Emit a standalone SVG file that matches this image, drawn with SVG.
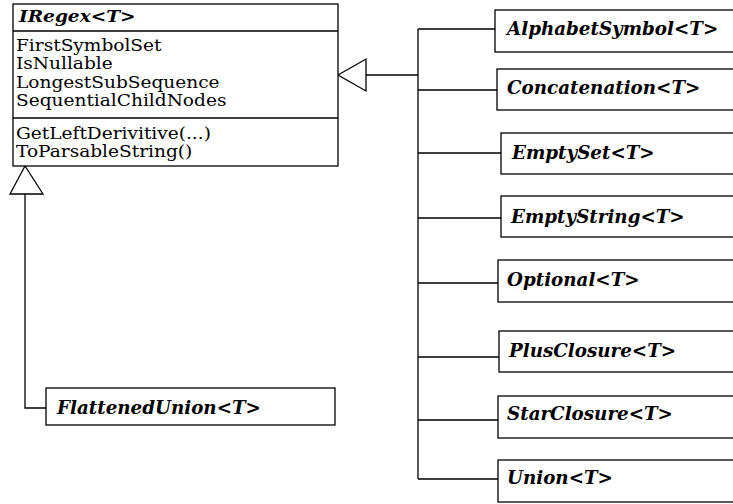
<svg xmlns="http://www.w3.org/2000/svg" width="733" height="504" viewBox="0 0 733 504">
<style>
.box{fill:#fff;stroke:#000;stroke-width:1.3}
.ln{fill:none;stroke:#000;stroke-width:1.3}
.tri{fill:#fff;stroke:#000;stroke-width:1.3}
.t{font-family:"DejaVu Serif",serif;font-size:16px;fill:#000}
.h{font-family:"DejaVu Serif",serif;font-size:18.3px;font-weight:bold;font-style:italic;fill:#000}
.hs{font-family:"DejaVu Serif",serif;font-size:16px;font-weight:bold;font-style:italic;fill:#000}
</style>
<rect width="733" height="504" fill="#fff"/>
<g id="connectors">
<path class="ln" d="M25,194 V408 H46"/>
<path class="ln" d="M366,75 H418"/>
<path class="ln" d="M418,29 V479"/>
<path class="ln" d="M418,29 H495 M418,90 H497 M418,153 H501 M418,218 H501 M418,283 H498 M418,357 H499 M418,420 H498 M418,479 H498"/>
<polygon class="tri" points="25,166 10,194 43,194"/>
<polygon class="tri" points="338,75 366,59 366,91"/>
</g>
<g id="IRegex">
<rect class="box" x="13" y="4" width="325" height="162"/>
<path class="ln" d="M13,31 H338 M13,118 H338"/>
<text class="hs" transform="matrix(1.16,0,0,1,19,21.5)">IRegex&lt;T&gt;</text>
<text class="t" transform="matrix(1.16,0,0,1,16,51)">FirstSymbolSet</text>
<text class="t" transform="matrix(1.16,0,0,1,16,69)">IsNullable</text>
<text class="t" transform="matrix(1.16,0,0,1,16,87.5)">LongestSubSequence</text>
<text class="t" transform="matrix(1.16,0,0,1,16,106)">SequentialChildNodes</text>
<text class="t" transform="matrix(1.16,0,0,1,16,138.5)">GetLeftDerivitive(...)</text>
<text class="t" transform="matrix(1.16,0,0,1,16,157)">ToParsableString()</text>
</g>
<g id="FlattenedUnion">
<rect class="box" x="46" y="388" width="289" height="37"/>
<text class="h" x="57" y="413.5">FlattenedUnion&lt;T&gt;</text>
</g>
<g id="AlphabetSymbol">
<rect class="box" x="495" y="10" width="250" height="42"/>
<text class="h" x="507" y="35">AlphabetSymbol&lt;T&gt;</text>
</g>
<g id="Concatenation">
<rect class="box" x="497" y="69" width="250" height="41"/>
<text class="h" x="507" y="94">Concatenation&lt;T&gt;</text>
</g>
<g id="EmptySet">
<rect class="box" x="501" y="133" width="250" height="41"/>
<text class="h" x="512" y="159">EmptySet&lt;T&gt;</text>
</g>
<g id="EmptyString">
<rect class="box" x="501" y="196" width="250" height="41"/>
<text class="h" x="511" y="223">EmptyString&lt;T&gt;</text>
</g>
<g id="Optional">
<rect class="box" x="498" y="260" width="250" height="42"/>
<text class="h" x="507" y="286">Optional&lt;T&gt;</text>
</g>
<g id="PlusClosure">
<rect class="box" x="499" y="331" width="250" height="41"/>
<text class="h" x="509" y="357">PlusClosure&lt;T&gt;</text>
</g>
<g id="StarClosure">
<rect class="box" x="498" y="396" width="250" height="42"/>
<text class="h" x="507" y="420">StarClosure&lt;T&gt;</text>
</g>
<g id="Union">
<rect class="box" x="498" y="460" width="250" height="42"/>
<text class="h" x="507" y="484">Union&lt;T&gt;</text>
</g>
</svg>
